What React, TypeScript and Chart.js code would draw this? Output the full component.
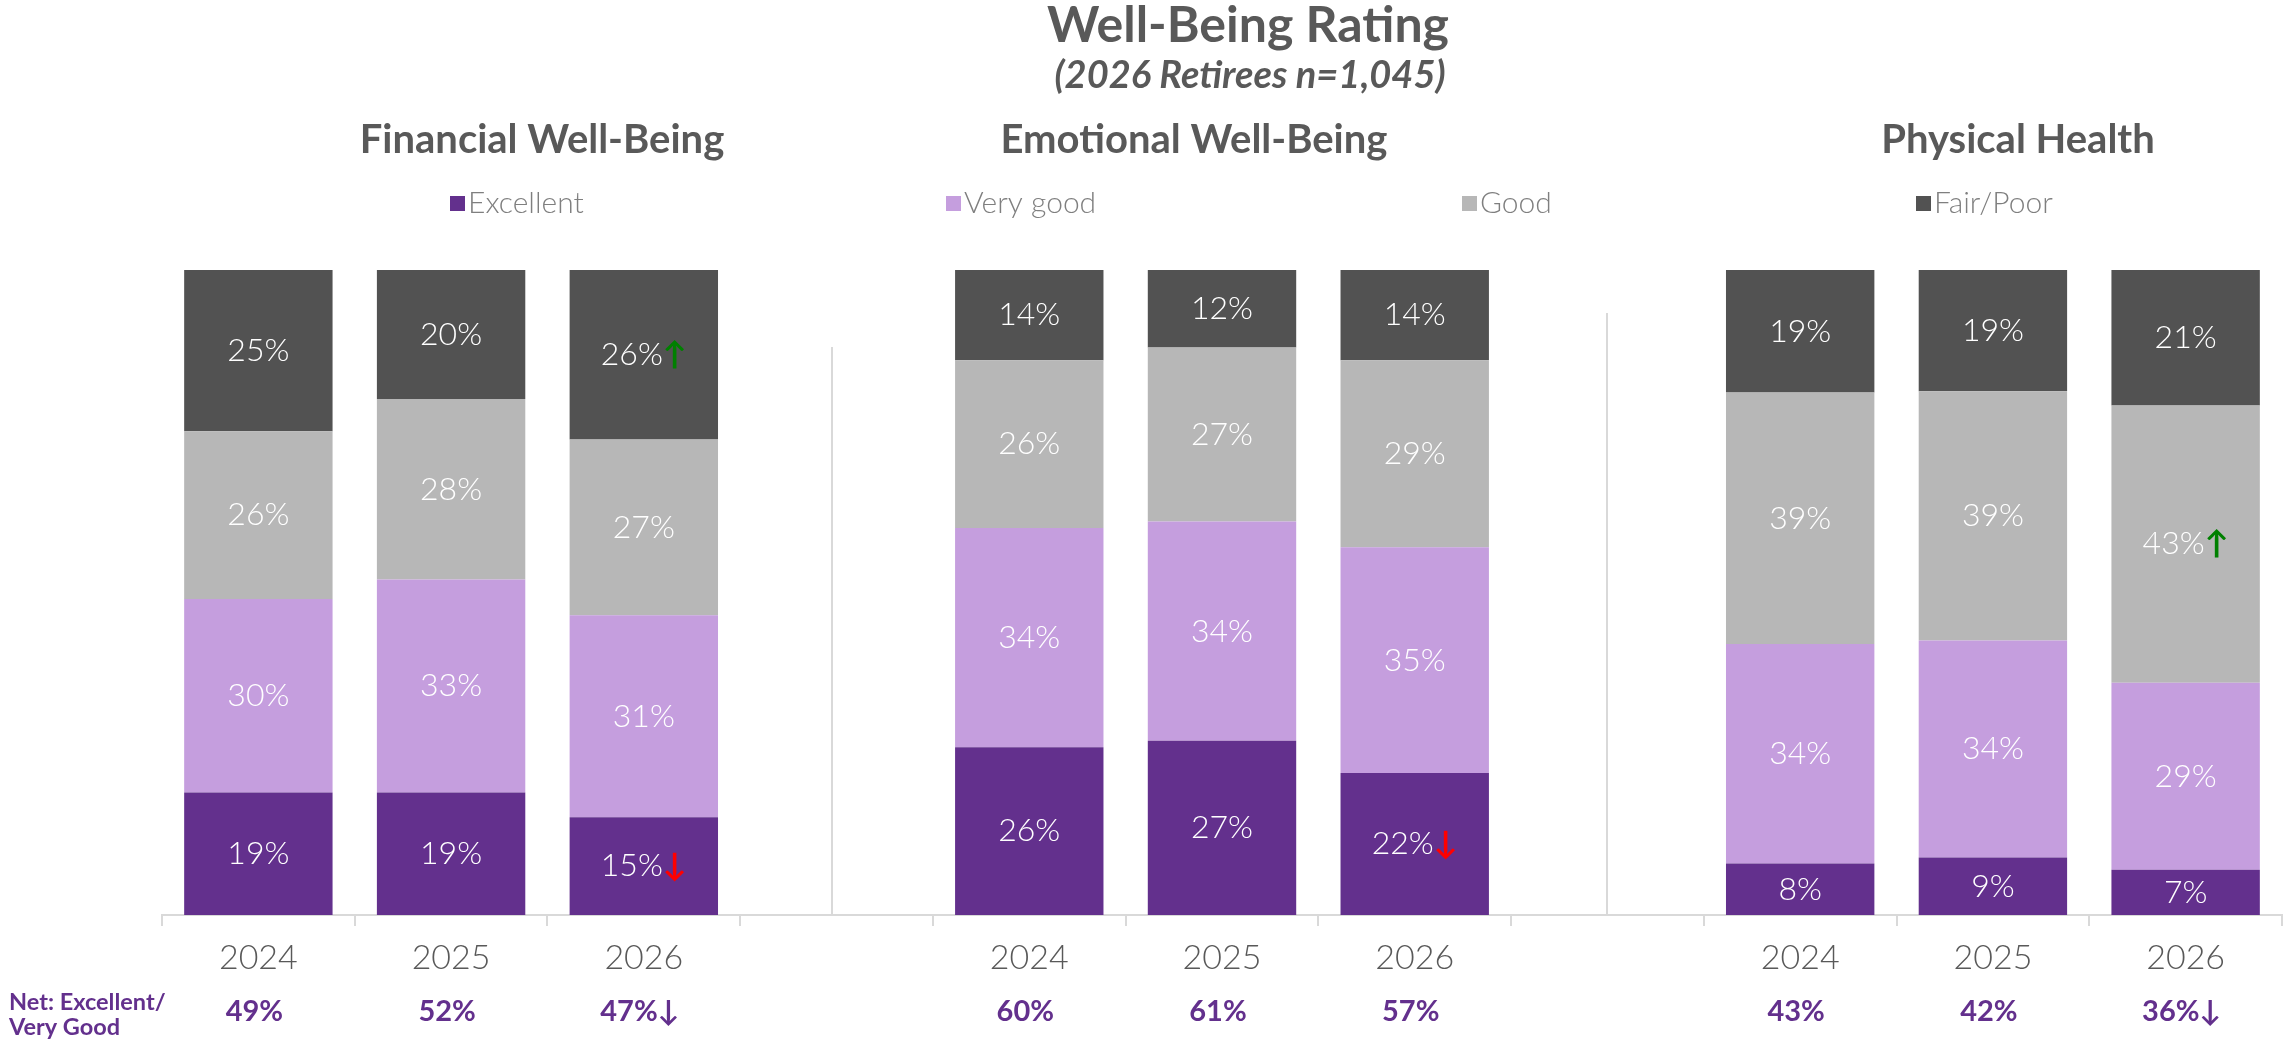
import React, { useEffect, useRef } from 'react';
import { Chart, registerables } from 'chart.js';

Chart.register(...registerables);

// ---------- data ----------
const categories = ['2024', '2025', '2026', '', '2024', '2025', '2026', '', '2024', '2025', '2026'];
const excellent = [19, 19, 15, null, 26, 27, 22, null, 8, 9, 7];
const veryGood = [30, 33, 31, null, 34, 34, 35, null, 34, 34, 29];
const good = [26, 28, 27, null, 26, 27, 29, null, 39, 39, 43];
const fairPoor = [25, 20, 26, null, 14, 12, 14, null, 19, 19, 21];
const netExcellentVeryGood = [49, 52, 47, null, 60, 61, 57, null, 43, 42, 36];

// significance markers ('up' / 'down' / '')
const excellentMarks = ['', '', 'down', '', '', '', 'down', '', '', '', ''];
const veryGoodMarks = ['', '', '', '', '', '', '', '', '', '', ''];
const goodMarks = ['', '', '', '', '', '', '', '', '', '', 'up'];
const fairPoorMarks = ['', '', 'up', '', '', '', '', '', '', '', ''];
const netMarks = ['', '', 'down', '', '', '', '', '', '', '', 'down'];

const seriesLabels = ['Excellent', 'Very good', 'Good', 'Fair/Poor'];
const seriesColors = ['#63308D', '#C59EDE', '#B7B7B7', '#525252'];

const mainTitle = 'Well-Being Rating';
const subTitle = '(2026 Retirees n=1,045)';
const panelTitles = ['Financial Well-Being', 'Emotional Well-Being', 'Physical Health'];
const netLabelLines = ['Net: Excellent/', 'Very Good'];

// ---------- helpers ----------
const totals = categories.map((_, i) =>
  excellent[i] == null ? null : (excellent[i] as number) + (veryGood[i] as number) + (good[i] as number) + (fairPoor[i] as number)
);
const share = (arr: (number | null)[]) =>
  arr.map((v, i) => (v == null ? null : (v / (totals[i] as number)) * 100));

const FONT = "Lato, 'Open Sans', 'DejaVu Sans', sans-serif";
const arrowChar = (m: string) => (m === 'up' ? '\u2191' : m === 'down' ? '\u2193' : '');

const decorPlugin = {
  id: 'decor',
  beforeDatasetsDraw(chart: any) {
    const { ctx, scales } = chart;
    const x = scales.x;
    const bottom = chart.chartArea.bottom;
    ctx.save();
    ctx.strokeStyle = '#D9D9D9';
    ctx.lineWidth = 2;
    const seps = [
      { idx: 3, top: 347, dx: -5 },
      { idx: 7, top: 313, dx: 0 },
    ];
    seps.forEach((s) => {
      const px = Math.round(x.getPixelForValue(s.idx)) + s.dx;
      ctx.beginPath();
      ctx.moveTo(px, s.top);
      ctx.lineTo(px, bottom);
      ctx.stroke();
    });
    ctx.restore();
  },
  afterDatasetsDraw(chart: any) {
    const { ctx, scales } = chart;
    const x = scales.x;
    ctx.save();
    // segment labels
    chart.data.datasets.forEach((ds: any, di: number) => {
      const meta = chart.getDatasetMeta(di);
      meta.data.forEach((el: any, i: number) => {
        const v = ds.raw[i];
        if (v == null) return;
        const p = el.getProps(['x', 'y', 'base'], true);
        const cy = (p.y + p.base) / 2;
        const txt = v + '%';
        const arr = arrowChar(ds.marks[i]);
        ctx.font = `300 32px ${FONT}`;
        const w1 = ctx.measureText(txt).width;
        ctx.font = `700 32px ${FONT}`;
        const w2 = arr ? ctx.measureText(arr).width : 0;
        const start = p.x - (w1 + w2) / 2;
        ctx.textAlign = 'left';
        ctx.textBaseline = 'middle';
        ctx.font = `300 32px ${FONT}`;
        ctx.fillStyle = '#FFFFFF';
        ctx.fillText(txt, start, cy);
        if (arr) {
          ctx.font = `700 32px ${FONT}`;
          ctx.fillStyle = ds.marks[i] === 'up' ? '#008000' : '#FF0000';
          ctx.fillText(arr, start + w1, cy);
        }
      });
    });

    // titles
    ctx.fillStyle = '#595959';
    ctx.textAlign = 'center';
    ctx.textBaseline = 'alphabetic';
    ctx.font = `700 50px ${FONT}`;
    ctx.fillText(mainTitle, 1248, 42);
    ctx.font = `italic 700 38px ${FONT}`;
    ctx.fillText(subTitle, 1250, 88);
    ctx.font = `700 40px ${FONT}`;
    const panelX = [542, 1194, 2018];
    panelTitles.forEach((t, i) => ctx.fillText(t, panelX[i], 153));

    // legend
    const legendX = [450, 946, 1462, 1916];
    ctx.font = `300 30px ${FONT}`;
    ctx.textAlign = 'left';
    seriesLabels.forEach((l, i) => {
      ctx.fillStyle = seriesColors[i];
      ctx.fillRect(legendX[i], 196, 15, 15);
      ctx.fillStyle = '#7F7F7F';
      ctx.fillText(l, legendX[i] + 18, 213);
    });

    // net row
    ctx.fillStyle = '#63308D';
    ctx.font = `700 23.5px ${FONT}`;
    ctx.fillText(netLabelLines[0], 9, 1010);
    ctx.fillText(netLabelLines[1], 9, 1035);
    netExcellentVeryGood.forEach((v, i) => {
      if (v == null) return;
      const px = x.getPixelForValue(i);
      const txt = v + '%' + arrowChar(netMarks[i]);
      ctx.font = `700 29px ${FONT}`;
      ctx.textAlign = 'center';
      ctx.fillText(txt, px - 4, 1021);
    });
    ctx.restore();
  },
};

export default function App() {
  const ref = useRef<HTMLCanvasElement | null>(null);
  useEffect(() => {
    if (!ref.current) return;
    const datasets = [
      { label: seriesLabels[0], data: share(excellent), raw: excellent, marks: excellentMarks, backgroundColor: seriesColors[0] },
      { label: seriesLabels[1], data: share(veryGood), raw: veryGood, marks: veryGoodMarks, backgroundColor: seriesColors[1] },
      { label: seriesLabels[2], data: share(good), raw: good, marks: goodMarks, backgroundColor: seriesColors[2] },
      { label: seriesLabels[3], data: share(fairPoor), raw: fairPoor, marks: fairPoorMarks, backgroundColor: seriesColors[3] },
    ].map((d) => ({ ...d, borderWidth: 0, barPercentage: 0.77, categoryPercentage: 1 }));

    const chart = new Chart(ref.current, {
      type: 'bar',
      data: { labels: categories, datasets: datasets as any },
      options: {
        responsive: false,
        animation: false,
        layout: { padding: { left: 162, right: 4, top: 270, bottom: 56 } },
        plugins: { legend: { display: false }, title: { display: false }, tooltip: { enabled: false } },
        scales: {
          x: {
            stacked: true,
            grid: { display: true, drawOnChartArea: false, drawTicks: true, tickLength: 11, color: '#D9D9D9', lineWidth: 2, offset: true },
            border: { display: true, color: '#D9D9D9', width: 2 },
            ticks: { color: '#595959', font: { family: FONT, size: 34, weight: 300 as any }, padding: 12, maxRotation: 0, autoSkip: false },
            afterFit: (s: any) => {
              s.height = 70;
            },
          },
          y: { stacked: true, display: false, min: 0, max: 100 },
        },
      },
      plugins: [decorPlugin],
    });
    return () => chart.destroy();
  }, []);

  return (
    <div style={{ position: 'absolute', left: 0, top: 0, width: 2286, height: 1041, background: '#fff' }}>
      <canvas ref={ref} width={2286} height={1041} style={{ width: 2286, height: 1041, display: 'block' }} />
    </div>
  );
}
